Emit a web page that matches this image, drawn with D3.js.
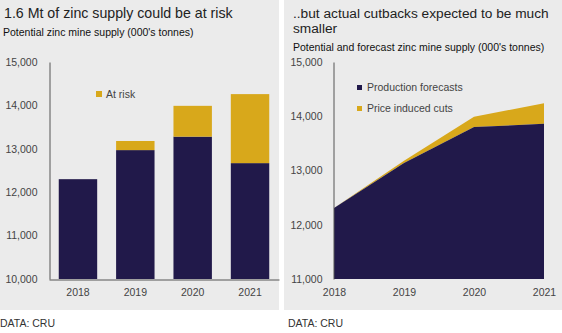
<!DOCTYPE html>
<html>
<head>
  <meta charset="utf-8">
  <style>
    body {
      margin: 0;
      background: #fff;
    }

    svg text {
      font-family: "Liberation Sans", Arial, sans-serif;
    }

    .panel {
      fill: #ebebeb;
    }

    .axis path {
      stroke: #555;
    }

    .axis text {
      font-size: 10.5px;
      fill: #444;
    }
  </style>
  <script src="https://cdnjs.cloudflare.com/ajax/libs/d3/7.8.5/d3.min.js"></script>
</head>

<body>
  <script>
    // left chart - potential supply with the part at risk
    const years = ["2018", "2019", "2020", "2021"];
    const baseSupply = [12300, 12970, 13280, 12670];
    const atRisk = [0, 210, 710, 1590];
    const leftTicks = [10000, 11000, 12000, 13000, 14000, 15000];

    // right chart - forecast production and price induced cuts
    const forecastYears = [2018, 2019, 2020, 2021];
    const productionForecast = [12310, 13140, 13800, 13860];
    const priceCuts = [0, 40, 190, 380];
    const rightTicks = [11000, 12000, 13000, 14000, 15000];

    const navy = "#21194a";
    const gold = "#d8a81b";

    const svg = d3.select("body")
      .append("svg")
      .attr("width", 562)
      .attr("height", 333);

    svg.append("rect").attr("class", "panel")
      .attr("x", 0).attr("y", 0).attr("width", 279).attr("height", 310);
    svg.append("rect").attr("class", "panel")
      .attr("x", 284).attr("y", 0).attr("width", 278).attr("height", 310);

    // ---------- left panel ----------
    svg.append("text")
      .attr("x", 4).attr("y", 18)
      .style("font-size", "14.2px").style("fill", "#222")
      .text("1.6 Mt of zinc supply could be at risk");
    svg.append("text")
      .attr("x", 3).attr("y", 36)
      .style("font-size", "10.5px").style("fill", "#111")
      .text("Potential zinc mine supply (000's tonnes)");

    const x1 = d3.scaleBand()
      .domain(years)
      .range([49, 279])
      .paddingInner(0.33)
      .paddingOuter(0.17);

    const y1 = d3.scaleLinear()
      .domain([10000, 15000])
      .range([279, 62]);

    const g1 = svg.append("g");

    g1.selectAll(".base")
      .data(years)
      .join("rect")
      .attr("x", d => x1(d))
      .attr("width", x1.bandwidth())
      .attr("y", (d, i) => y1(baseSupply[i]))
      .attr("height", (d, i) => y1(10000) - y1(baseSupply[i]))
      .attr("fill", navy);

    g1.selectAll(".risk")
      .data(years)
      .join("rect")
      .attr("x", d => x1(d))
      .attr("width", x1.bandwidth())
      .attr("y", (d, i) => y1(baseSupply[i] + atRisk[i]))
      .attr("height", (d, i) => y1(baseSupply[i]) - y1(baseSupply[i] + atRisk[i]))
      .attr("fill", gold);

    g1.append("g")
      .attr("class", "axis")
      .attr("transform", "translate(49.5,0)")
      .call(d3.axisLeft(y1).tickValues(leftTicks).tickSize(0).tickSizeOuter(0).tickPadding(12)
        .tickFormat(d3.format(",")));

    g1.append("g")
      .attr("class", "axis")
      .attr("transform", "translate(0,279.5)")
      .call(d3.axisBottom(x1).tickSize(0).tickSizeOuter(0).tickPadding(9));

    g1.append("rect")
      .attr("x", 96).attr("y", 91).attr("width", 6).attr("height", 6)
      .attr("fill", gold);
    g1.append("text")
      .attr("x", 106).attr("y", 98)
      .style("font-size", "10.5px").style("fill", "#444")
      .text("At risk");

    g1.append("text")
      .attr("x", 0).attr("y", 327)
      .style("font-size", "10.5px").style("fill", "#333")
      .text("DATA: CRU");

    // ---------- right panel ----------
    const titleLines = ["..but actual cutbacks expected to be much", "smaller"];
    svg.append("text")
      .attr("x", 293).attr("y", 18)
      .style("font-size", "13.7px").style("fill", "#222")
      .selectAll("tspan")
      .data(titleLines)
      .join("tspan")
      .attr("x", 293)
      .attr("dy", (d, i) => i ? 15 : 0)
      .text(d => d);
    svg.append("text")
      .attr("x", 293).attr("y", 51)
      .style("font-size", "10.5px").style("fill", "#111")
      .text("Potential and forecast zinc mine supply (000's tonnes)");

    const x2 = d3.scaleLinear()
      .domain([2018, 2021])
      .range([334, 544]);

    const y2 = d3.scaleLinear()
      .domain([11000, 15000])
      .range([279, 62]);

    const rows = forecastYears.map((yr, i) => ({
      year: yr,
      prod: productionForecast[i],
      total: productionForecast[i] + priceCuts[i]
    }));

    const g2 = svg.append("g");

    g2.append("path")
      .datum(rows)
      .attr("fill", gold)
      .attr("d", d3.area()
        .x(d => x2(d.year))
        .y0(d => y2(d.prod))
        .y1(d => y2(d.total)));

    g2.append("path")
      .datum(rows)
      .attr("fill", navy)
      .attr("d", d3.area()
        .x(d => x2(d.year))
        .y0(y2(11000))
        .y1(d => y2(d.prod)));

    g2.append("g")
      .attr("class", "axis")
      .attr("transform", "translate(333.5,0)")
      .call(d3.axisLeft(y2).tickValues(rightTicks).tickSize(0).tickSizeOuter(0).tickPadding(11)
        .tickFormat(d3.format(",")));

    const xAxis2 = g2.append("g")
      .attr("class", "axis")
      .attr("transform", "translate(0,279)")
      .call(d3.axisBottom(x2).tickValues(forecastYears).tickSize(0).tickSizeOuter(0).tickPadding(10)
        .tickFormat(d3.format("d")));
    xAxis2.select(".domain").remove();

    const legend = [
      { label: "Production forecasts", color: navy },
      { label: "Price induced cuts", color: gold }
    ];
    const lg = g2.selectAll(".legend")
      .data(legend)
      .join("g")
      .attr("transform", (d, i) => `translate(357,${85 + i * 21})`);
    lg.append("rect")
      .attr("width", 5).attr("height", 5)
      .attr("fill", d => d.color);
    lg.append("text")
      .attr("x", 10).attr("y", 6)
      .style("font-size", "10.5px").style("fill", "#444")
      .text(d => d.label);

    g2.append("text")
      .attr("x", 288).attr("y", 327)
      .style("font-size", "10.5px").style("fill", "#333")
      .text("DATA: CRU");
  </script>
</body>
</html>
